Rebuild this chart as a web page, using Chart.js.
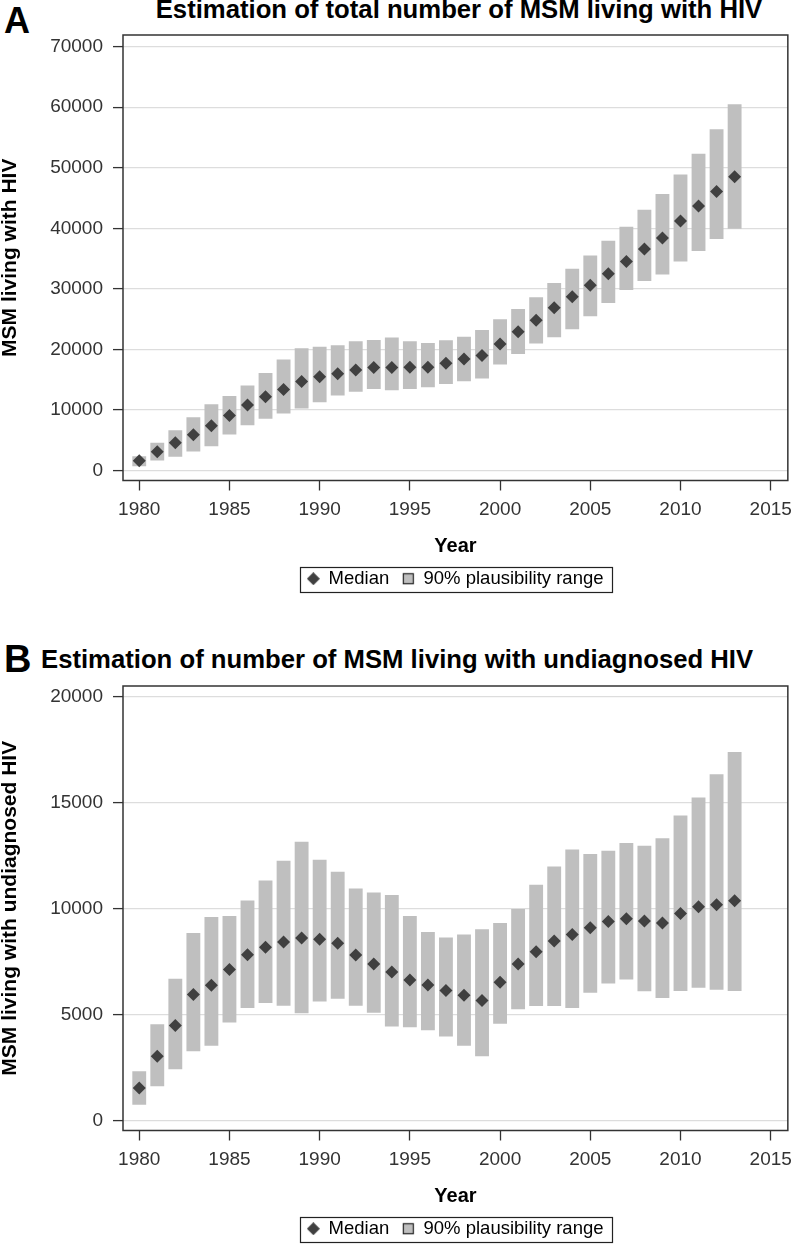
<!DOCTYPE html>
<html>
<head>
<meta charset="utf-8">
<script src="https://cdn.jsdelivr.net/npm/chart.js@4.4.1/dist/chart.umd.min.js"></script>
<style>
  html, body { margin: 0; padding: 0; background: #fff; }
  body { width: 800px; height: 1244px; overflow: hidden; position: relative; font-family: "Liberation Sans", Arial, sans-serif; }
  .lbl { position: absolute; font-weight: bold; color: #000; line-height: 1; white-space: nowrap; }
  canvas { position: absolute; left: 0; }
</style>
</head>
<body>
<div class="lbl" style="left:4px; top:2.5px; font-size:36px;">A</div>
<div class="lbl" style="left:123px; width:672px; top:-3.4px; font-size:25.7px; text-align:center;">Estimation of total number of MSM living with HIV</div>
<div class="lbl" style="left:4px; top:639.5px; font-size:38px;">B</div>
<div class="lbl" style="left:41px; top:647.3px; font-size:25.7px;">Estimation of number of MSM living with undiagnosed HIV</div>
<canvas id="c1" width="800" height="600" style="top:0px;"></canvas>
<canvas id="c2" width="800" height="610" style="top:640px;"></canvas>
<script>
// ---- Data ----
const years = [1980, 1981, 1982, 1983, 1984, 1985, 1986, 1987, 1988, 1989,
               1990, 1991, 1992, 1993, 1994, 1995, 1996, 1997, 1998, 1999,
               2000, 2001, 2002, 2003, 2004, 2005, 2006, 2007, 2008, 2009,
               2010, 2011, 2012, 2013];

const totalMedian = [1600, 3100, 4600, 5900, 7400, 9100, 10800, 12200, 13400, 14700,
                     15500, 16000, 16600, 17000, 17000, 17050, 17050, 17700, 18400, 19000,
                     20900, 22900, 24800, 26900, 28700, 30600, 32500, 34500, 36600, 38400,
                     41200, 43700, 46100, 48500];
const totalLow = [700, 1650, 2260, 3140, 4010, 5940, 7480, 8530, 9410, 10230,
                  11270, 12380, 12990, 13480, 13250, 13480, 13750, 14300, 14740, 15180,
                  17490, 19260, 20960, 22000, 23320, 25460, 27670, 29820, 31300, 32390,
                  34540, 36250, 38230, 39930];
const totalHigh = [2360, 4570, 6650, 8800, 10940, 12300, 14030, 16120, 18320, 20180,
                   20460, 20680, 21340, 21570, 21950, 21340, 21070, 21500, 22110, 23220,
                   24970, 26680, 28600, 30970, 33330, 35520, 37950, 40260, 43070, 45650,
                   48890, 52310, 56380, 60510];

const undMedian = [1540, 3030, 4480, 5950, 6380, 7120, 7820, 8170, 8420, 8610,
                   8550, 8360, 7810, 7390, 7010, 6630, 6400, 6140, 5910, 5660,
                   6520, 7390, 7960, 8470, 8780, 9100, 9390, 9520, 9410, 9320,
                   9770, 10090, 10180, 10370];
const undLow = [750, 1620, 2420, 3270, 3530, 4630, 5310, 5550, 5420, 5060,
                5610, 5740, 5420, 5080, 4440, 4400, 4260, 3960, 3530, 3030,
                4570, 5250, 5400, 5400, 5310, 6030, 6460, 6650, 6100, 5780,
                6110, 6270, 6170, 6110];
const undHigh = [2320, 4540, 6690, 8850, 9600, 9650, 10380, 11330, 12250, 13150,
                 12300, 11740, 10950, 10760, 10640, 9650, 8890, 8640, 8780, 9030,
                 9320, 9980, 11120, 11990, 12790, 12580, 12730, 13090, 12960, 13320,
                 14390, 15240, 16340, 17390];

const xTicks = [1980, 1985, 1990, 1995, 2000, 2005, 2010, 2015];
const totalTicks = [0, 10000, 20000, 30000, 40000, 50000, 60000, 70000];
const undTicks = [0, 5000, 10000, 15000, 20000];
const legendLabels = ['Median', '90% plausibility range'];

// ---- Styling ----
const FONT = '"Liberation Sans", Arial, sans-serif';
const BAR_COLOR = '#bfbfbf';
const MARK_COLOR = '#404040';
const AXIS_COLOR = '#333333';
const GRID_COLOR = '#dddddd';

function makeIcon(kind) {
  const c = document.createElement('canvas');
  c.width = 13; c.height = 13;
  const g = c.getContext('2d');
  if (kind === 'diamond') {
    g.fillStyle = MARK_COLOR;
    g.beginPath();
    g.moveTo(6.5, 0); g.lineTo(13, 6.5); g.lineTo(6.5, 13); g.lineTo(0, 6.5);
    g.closePath(); g.fill();
  } else {
    g.fillStyle = BAR_COLOR;
    g.fillRect(1, 1, 11, 11);
    g.strokeStyle = '#222';
    g.lineWidth = 1.2;
    g.strokeRect(1.5, 1.5, 10, 10);
  }
  return c;
}
const diamondIcon = makeIcon('diamond');
const squareIcon = makeIcon('square');

const framePlugin = {
  id: 'frameAndLegendBox',
  afterDraw(chart) {
    const ctx = chart.ctx;
    const a = chart.chartArea;
    ctx.save();
    ctx.strokeStyle = AXIS_COLOR;
    ctx.lineWidth = 1.5;
    ctx.strokeRect(a.left, a.top, a.right - a.left, a.bottom - a.top);
    const hb = chart.legend && chart.legend.legendHitBoxes;
    if (hb && hb.length) {
      const first = hb[0], last = hb[hb.length - 1];
      const l = first.left - 7;
      const r = last.left + last.width + 9;
      const t = first.top - 2.5;
      const h = first.height + 6;
      ctx.lineWidth = 1.2;
      ctx.strokeStyle = '#222';
      ctx.strokeRect(Math.round(l) + 0.5, Math.round(t) + 0.5, Math.round(r - l), Math.round(h));
    }
    ctx.restore();
  }
};

function buildChart(canvasId, median, low, high, yMin, yMax, yTicks, yTitle, padTop) {
  const barData = years.map((yr, i) => ({ x: yr, y: [low[i], high[i]] }));
  const medData = years.map((yr, i) => ({ x: yr, y: median[i] }));
  return new Chart(document.getElementById(canvasId), {
    type: 'bar',
    data: {
      datasets: [
        {
          type: 'line',
          label: legendLabels[0],
          data: medData,
          showLine: false,
          pointStyle: 'rectRot',
          pointRadius: 6.5,
          pointHoverRadius: 6.5,
          pointBorderWidth: 0,
          backgroundColor: MARK_COLOR,
          borderColor: MARK_COLOR,
          order: 0
        },
        {
          type: 'bar',
          label: legendLabels[1],
          data: barData,
          backgroundColor: BAR_COLOR,
          borderWidth: 0,
          barPercentage: 0.96,
          categoryPercentage: 0.8,
          order: 1
        }
      ]
    },
    options: {
      responsive: false,
      animation: false,
      events: [],
      layout: { padding: { left: 0, right: 5, top: padTop, bottom: 2 } },
      scales: {
        x: {
          type: 'linear',
          min: 1979.1,
          max: 2015.95,
          offset: false,
          afterBuildTicks: (s) => { s.ticks = xTicks.map(v => ({ value: v })); },
          afterFit: (s) => { s.height = 76; },
          border: { display: false },
          grid: { display: true, offset: false, drawOnChartArea: false, drawTicks: true, tickLength: 10, tickColor: AXIS_COLOR, tickWidth: 1.3 },
          ticks: {
            padding: 8,
            color: AXIS_COLOR,
            font: { family: FONT, size: 19 },
            callback: (v) => String(v),
            maxRotation: 0,
            autoSkip: false
          },
          title: { display: true, text: 'Year', color: '#000', font: { family: FONT, size: 20, weight: 'bold', lineHeight: 1 }, padding: { top: 0, bottom: 0 } }
        },
        y: {
          type: 'linear',
          min: yMin,
          max: yMax,
          afterBuildTicks: (s) => { s.ticks = yTicks.map(v => ({ value: v })); },
          afterFit: (s) => { s.width = 123; },
          border: { display: false },
          grid: { color: GRID_COLOR, lineWidth: 1.2, drawTicks: true, tickLength: 10, tickColor: AXIS_COLOR, tickWidth: 1.3 },
          ticks: {
            padding: 10,
            color: AXIS_COLOR,
            font: { family: FONT, size: 19 },
            callback: (v) => String(v),
            autoSkip: false
          },
          title: { display: true, text: yTitle, color: '#000', font: { family: FONT, size: 21, weight: 'bold', lineHeight: 1 }, padding: { top: 0, bottom: 0 } }
        }
      },
      plugins: {
        tooltip: { enabled: false },
        title: { display: false },
        legend: {
          display: true,
          position: 'bottom',
          fullSize: false,
          labels: {
            usePointStyle: true,
            boxWidth: 12,
            boxHeight: 12,
            padding: 13,
            color: '#000',
            font: { family: FONT, size: 18.5 },
            generateLabels: () => [
              { text: legendLabels[0], pointStyle: diamondIcon, fillStyle: MARK_COLOR, strokeStyle: MARK_COLOR, lineWidth: 0, datasetIndex: 0, hidden: false },
              { text: legendLabels[1], pointStyle: squareIcon, fillStyle: BAR_COLOR, strokeStyle: '#222', lineWidth: 1, datasetIndex: 1, hidden: false }
            ]
          }
        }
      }
    },
    plugins: [framePlugin]
  });
}

buildChart('c1', totalMedian, totalLow, totalHigh, -1650, 71930, totalTicks, 'MSM living with HIV', 35);
buildChart('c2', undMedian, undLow, undHigh, -470, 20500, undTicks, 'MSM living with undiagnosed HIV', 46);
</script>
</body>
</html>
